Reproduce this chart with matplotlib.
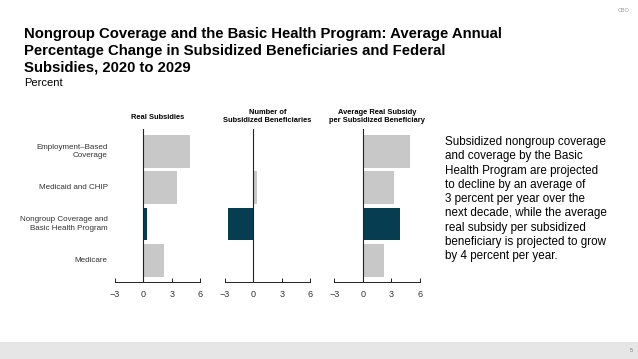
import matplotlib
matplotlib.use("Agg")
import matplotlib.pyplot as plt
from matplotlib.patches import Rectangle

categories = ["Employment\u2013Based\nCoverage", "Medicaid and CHIP",
              "Nongroup Coverage and\nBasic Health Program", "Medicare"]
panel_titles = ["Real Subsidies", "Number of\nSubsidized Beneficiaries",
                "Average Real Subsidy\nper Subsidized Beneficiary"]
real_subsidies = [4.88, 3.58, 0.42, 2.18]
num_beneficiaries = [0.0, 0.35, -2.63, 0.0]
avg_subsidy = [4.91, 3.23, 3.86, 2.24]
series = [real_subsidies, num_beneficiaries, avg_subsidy]
highlight = 2
xticks = [-3, 0, 3, 6]
xtick_labels = ["\u22123", "0", "3", "6"]

title = ("Nongroup Coverage and the Basic Health Program: Average Annual\n"
         "Percentage Change in Subsidized Beneficiaries and Federal\n"
         "Subsidies, 2020 to 2029")
subtitle = "Percent"
note = ("Subsidized nongroup coverage\nand coverage by the Basic\n"
        "Health Program are projected\nto decline by an average of\n"
        "3 percent per year over the\nnext decade, while the average\n"
        "real subsidy per subsidized\nbeneficiary is projected to grow\n"
        "by 4 percent per year.")

W, H = 638, 359
fig = plt.figure(figsize=(W / 100, H / 100), dpi=100)
fig.patch.set_facecolor("white")

GRAY = "#c8c8c8"
TEAL = "#073d51"
SANS = ["Liberation Sans", "DejaVu Sans"]

# bottom band
fig.patches.append(Rectangle((0, 0), 1, (H - 342) / H, transform=fig.transFigure,
                             facecolor="#e6e6e6", edgecolor="none", zorder=0))
fig.text(631 / W, 1 - 350 / H, "5", fontsize=4, color="#777777", ha="center",
         va="center", family=SANS)
fig.text(624 / W, 1 - 10 / H, "CBO", fontsize=4, color="#999999", ha="center",
         va="center", family=SANS)

fig.text(24 / W, 1 - 27 / H, title, fontsize=10.7, fontweight="bold", ha="left",
         va="top", family=SANS, linespacing=1.24)
fig.text(24 / W, 1 - 83 / H, subtitle, fontsize=8, ha="left", va="center",
         family=SANS)
fig.text(445 / W, 1 - 136 / H, note, fontsize=8.4, ha="left", va="top",
         family=SANS, linespacing=1.25)

lefts = [114.7, 224.7, 334.3]
width_px = 85.6
top_px, bot_px = 129, 281.7
for i, vals in enumerate(series):
    ax = fig.add_axes([lefts[i] / W, 1 - bot_px / H, width_px / W,
                       (bot_px - top_px) / H])
    colors = [TEAL if j == highlight else GRAY for j in range(len(vals))]
    ax.barh(range(len(vals)), vals, height=0.9, color=colors, zorder=2)
    ax.set_xlim(-3, 6)
    ax.set_ylim(3.582, -0.613)
    ax.axvline(0, color="#222222", lw=0.8, zorder=3)
    for s in ["top", "right", "left"]:
        ax.spines[s].set_visible(False)
    ax.spines["bottom"].set_linewidth(0.7)
    ax.spines["bottom"].set_color("#222222")
    ax.set_xticks(xticks)
    ax.set_xticklabels(xtick_labels, family=SANS, fontsize=6.5)
    ax.tick_params(axis="x", direction="in", length=3, width=0.7, pad=6,
                   colors="#222222", labelcolor="#333333")
    ax.set_yticks([])
    ax.patch.set_alpha(0)
    ax.set_title(panel_titles[i], fontsize=5.4, fontweight="bold", family=SANS,
                 pad=7 if i == 0 else 5, linespacing=1.2)
    if i == 0:
        for j, c in enumerate(categories):
            ax.text(-3.75, j, c, ha="right", va="center", fontsize=5.8,
                    family=SANS, color="#333333", linespacing=1.3)

fig.savefig("out.png", dpi=100)
